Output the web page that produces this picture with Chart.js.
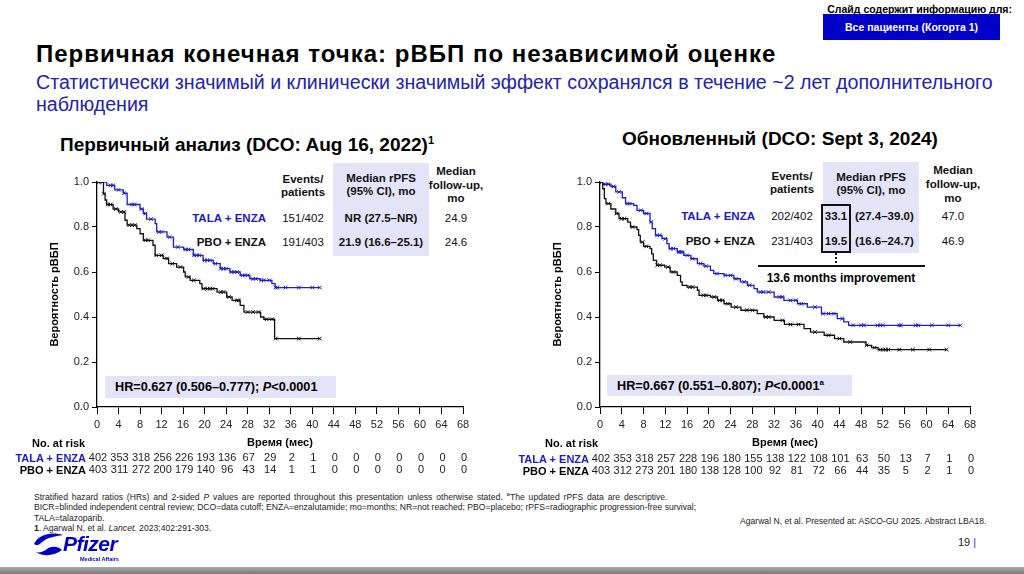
<!DOCTYPE html>
<html><head><meta charset="utf-8">
<script src="https://cdn.jsdelivr.net/npm/chart.js@4"></script>
<style>
body{margin:0;width:1024px;height:574px;position:relative;overflow:hidden;background:#fff;font-family:"Liberation Sans",Arial,sans-serif;color:#000}
.a{position:absolute;white-space:nowrap;line-height:1}
.cc{transform:translate(-50%,-50%);text-align:center}
.rc{transform:translate(-100%,-50%);text-align:right}
.lc{transform:translate(0,-50%)}
.b{font-weight:bold}
.t{font-size:11.5px;color:#111}
.blue{color:#1a1ac8}
.shade{position:absolute;background:#e4e4f8}
canvas{position:absolute}
.fn{position:absolute;left:34px;font-size:8.6px;color:#222;white-space:nowrap;line-height:10.4px}
</style></head><body>

<div class="a b" style="right:12px;top:4px;font-size:10.5px;">Слайд содержит информацию для:</div>
<div class="a b" style="left:823px;top:14px;width:177px;height:26px;background:#0000c8;color:#fff;font-size:10.5px;line-height:26px;text-align:center">Все пациенты (Когорта 1)</div>

<div class="a b" style="left:36px;top:42px;font-size:24px;letter-spacing:1px">Первичная конечная точка: рВБП по независимой оценке</div>
<div class="a" style="left:36px;top:71px;font-size:19.6px;line-height:22px;color:#2222b0">Статистически значимый и клинически значимый эффект сохранялся в течение ~2 лет дополнительного<br>наблюдения</div>

<div class="a b" style="left:60px;top:135px;font-size:19px;">Первичный анализ (DCO: Aug 16, 2022)<sup style="font-size:11px">1</sup></div>
<div class="a b" style="left:622px;top:129px;font-size:19px;">Обновленный (DCO: Sept 3, 2024)</div>

<!-- left table -->
<div class="shade" style="left:333px;top:163px;width:96px;height:93px"></div>
<div class="a cc b t" style="left:303px;top:186px;line-height:13px">Events/<br>patients</div>
<div class="a cc b t" style="left:381px;top:185px;line-height:13px">Median rPFS<br>(95% CI), mo</div>
<div class="a cc b t" style="left:456px;top:185px;line-height:13.5px">Median<br>follow-up,<br>mo</div>
<div class="a rc b t blue" style="left:266px;top:219px">TALA + ENZA</div>
<div class="a cc t" style="left:303px;top:219px">151/402</div>
<div class="a cc b t" style="left:381px;top:219px">NR (27.5–NR)</div>
<div class="a cc t" style="left:456px;top:219px">24.9</div>
<div class="a rc b t" style="left:266px;top:243px">PBO + ENZA</div>
<div class="a cc t" style="left:303px;top:243px">191/403</div>
<div class="a cc b t" style="left:381px;top:243px">21.9 (16.6–25.1)</div>
<div class="a cc t" style="left:456px;top:243px">24.6</div>

<!-- right table -->
<div class="shade" style="left:823px;top:162px;width:96px;height:91px"></div>
<div class="a cc b t" style="left:792px;top:183px;line-height:13px">Events/<br>patients</div>
<div class="a cc b t" style="left:871px;top:184px;line-height:13px">Median rPFS<br>(95% CI), mo</div>
<div class="a cc b t" style="left:953px;top:184px;line-height:14px">Median<br>follow-up,<br>mo</div>
<div class="a rc b t blue" style="left:755px;top:217px">TALA + ENZA</div>
<div class="a cc t" style="left:792px;top:217px">202/402</div>
<div class="a cc b t" style="left:836px;top:217px">33.1</div>
<div class="a lc b t" style="left:855px;top:217px">(27.4–39.0)</div>
<div class="a cc t" style="left:953px;top:217px">47.0</div>
<div class="a rc b t" style="left:755px;top:242px">PBO + ENZA</div>
<div class="a cc t" style="left:792px;top:242px">231/403</div>
<div class="a cc b t" style="left:836px;top:242px">19.5</div>
<div class="a lc b t" style="left:855px;top:242px">(16.6–24.7)</div>
<div class="a cc t" style="left:953px;top:242px">46.9</div>
<div style="position:absolute;left:821px;top:204px;width:26px;height:45px;border:2.5px solid #111"></div>
<div style="position:absolute;left:835px;top:253px;height:10px;border-left:2px dotted #111"></div>
<div style="position:absolute;left:758px;top:265px;width:167px;height:2px;background:#111"></div>
<div class="a cc b" style="left:841px;top:278px;font-size:12px">13.6 months improvement</div>

<canvas id="c1" width="490" height="310" style="left:0;top:170px"></canvas>
<canvas id="c2" width="500" height="310" style="left:500px;top:170px"></canvas>

<!-- HR boxes -->
<div class="shade" style="left:105px;top:376px;width:231px;height:22px"></div>
<div class="a lc b" style="left:115px;top:387px;font-size:12.7px">HR=0.627 (0.506–0.777); <i>P</i>&lt;0.0001</div>
<div class="shade" style="left:607px;top:375px;width:245px;height:21px"></div>
<div class="a lc b" style="left:617px;top:385.5px;font-size:12.7px">HR=0.667 (0.551–0.807); <i>P</i>&lt;0.0001<sup style="font-size:8px">a</sup></div>

<!-- at risk labels -->
<div class="a lc b" style="left:32px;top:443px;font-size:11px">No. at risk</div>
<div class="a rc b blue" style="left:86px;top:458px;font-size:11px">TALA + ENZA</div>
<div class="a rc b" style="left:86px;top:470px;font-size:11px">PBO + ENZA</div>
<div class="a lc b" style="left:545px;top:443px;font-size:11px">No. at risk</div>
<div class="a rc b blue" style="left:589px;top:459px;font-size:11px">TALA + ENZA</div>
<div class="a rc b" style="left:589px;top:471px;font-size:11px">PBO + ENZA</div>

<!-- footnotes -->
<div class="fn" style="top:489px"><span style="word-spacing:1.5px">Stratified hazard ratios (HRs) and 2-sided <i>P</i> values are reported throughout this presentation unless otherwise stated. <sup style="font-size:6px">a</sup>The updated rPFS data are descriptive.</span><br>BICR=blinded independent central review; DCO=data cutoff; ENZA=enzalutamide; mo=months; NR=not reached; PBO=placebo; rPFS=radiographic progression-free survival;<br>TALA=talazoparib.<br><b>1</b>. Agarwal N, et al. <i>Lancet.</i> 2023;402:291-303.</div>
<div class="a" style="left:740px;top:517px;font-size:8.6px;color:#222">Agarwal N, et al. Presented at: ASCO-GU 2025. Abstract LBA18.</div>
<div class="a" style="left:958px;top:537px;font-size:11px;color:#222">19 <span style="color:#3333cc">|</span></div>

<!-- Pfizer logo -->
<svg style="position:absolute;left:33px;top:531px" width="32" height="28" viewBox="0 0 32 28">
<path d="M1,13 C5,4 18,0 30,4 C24,5 14,6 8,12 C6,14 3,15 1,13 Z" fill="#0000c8"/>
<path d="M3,21 C8,25 20,26 29,19 C25,15 18,15 14,18 C10,21 6,22 3,21 Z" fill="#0000c8"/>
</svg>
<div class="a b" style="left:63px;top:533px;font-size:21px;font-style:italic;color:#0000c8;letter-spacing:-0.5px">Pfizer</div>
<div class="a b" style="left:80px;top:557px;font-size:5.5px;color:#0000c8">Medical Affairs</div>
<div style="position:absolute;left:0;top:567px;width:1024px;height:7px;background:linear-gradient(#aaa,#777)"></div>

<script>
// ---------- data ----------
const timeTicks = [0,4,8,12,16,20,24,28,32,36,40,44,48,52,56,60,64,68];
const yTicks = [0,0.2,0.4,0.6,0.8,1.0];
const seriesNames = ['TALA + ENZA','PBO + ENZA'];

// Primary analysis (DCO Aug 16, 2022): [month, survival] step points
const primTalaSteps = [[0,1],[1.8,0.985],[3.3,0.965],[4.9,0.95],[5.6,0.90],[8.0,0.88],[8.6,0.86],[9.2,0.835],[10.8,0.815],[11.1,0.778],[13.0,0.755],[14.2,0.711],[16.1,0.70],[17.9,0.674],[19.7,0.652],[21.6,0.637],[22.9,0.615],[24.7,0.60],[26.6,0.585],[28.4,0.57],[30.3,0.563],[32.5,0.548],[33.1,0.531],[41.4,0.531]];
const primTalaCensor = [0.3,1,2.5,3,4,5,6.5,7,8.3,9,10,11.5,12,13.5,15,16.5,17,18,18.5,19,20,20.5,21,22,23,23.5,24,25,25.5,26,27,27.5,28,29,29.5,30.5,31,32,33.2,33.5,35,37.5,40,41.4];
const primPboSteps = [[0,1],[1.2,0.948],[1.5,0.92],[1.8,0.90],[3.0,0.88],[4.0,0.867],[5.2,0.83],[5.6,0.808],[7.4,0.793],[8.0,0.77],[8.6,0.741],[10.4,0.719],[10.8,0.674],[12.3,0.66],[13.3,0.637],[14.8,0.622],[16.1,0.60],[16.4,0.578],[17.3,0.563],[19.1,0.548],[19.5,0.526],[22.3,0.511],[24.1,0.489],[25.1,0.474],[26.6,0.452],[27.3,0.422],[30.4,0.40],[31.0,0.39],[33.0,0.304],[41.4,0.304]];
const primPboCensor = [0.3,1.3,2,2.5,3.5,4.5,5,6,6.5,7,9,9.5,11,12,13,14,15.5,17,18,19.8,20.5,21,21.5,23,23.5,24.5,26,26.3,28,29,30,31.5,32.5,33.2,37.5,41.4];
const primTalaRisk = [402,353,318,256,226,193,136,67,29,2,1,0,0,0,0,0,0,0];
const primPboRisk  = [403,311,272,200,179,140,96,43,14,1,1,0,0,0,0,0,0,0];

// Updated analysis (DCO Sept 3, 2024)
const updTalaSteps = [[0,1],[0.5,0.99],[2,0.98],[2.9,0.956],[4.1,0.93],[4.7,0.904],[6.2,0.896],[6.8,0.874],[8.0,0.86],[9.2,0.822],[9.6,0.793],[10.2,0.763],[11.4,0.748],[12.3,0.726],[12.7,0.704],[14.2,0.689],[15.4,0.674],[16.7,0.659],[17.9,0.637],[19.1,0.626],[20.3,0.607],[20.9,0.593],[22.8,0.585],[24.6,0.57],[25.8,0.556],[27.1,0.541],[28.3,0.526],[28.9,0.511],[32.0,0.489],[33.8,0.474],[36.3,0.459],[38.1,0.444],[40.7,0.415],[43.6,0.393],[44.8,0.378],[45.7,0.363],[66.2,0.363]];
const updTalaCensor = [0.3,1,1.5,2.5,3.5,5,5.5,7.5,8.5,9.4,10.5,11,12,13,13.5,14.5,14.8,15,16,17,18.5,19.5,21.5,23,24,25,26.5,27.5,29.5,30,31,33,33.5,35,36,37,39.5,41,42,43,44.5,46.5,48,48.5,51,51.5,52,55,55.3,58,58.5,61,64,66.2];
const updPboSteps = [[0,1],[0.5,0.97],[0.8,0.926],[1.1,0.904],[2,0.88],[2.9,0.86],[3.5,0.837],[5.1,0.822],[5.6,0.80],[6.8,0.788],[7.1,0.763],[7.4,0.733],[8.0,0.714],[9.2,0.704],[9.5,0.681],[9.8,0.652],[10.4,0.63],[11.9,0.622],[12.9,0.60],[14.2,0.585],[14.8,0.556],[15.1,0.541],[16.0,0.533],[17.9,0.519],[18.2,0.496],[20.3,0.489],[21.6,0.474],[22.8,0.459],[24.1,0.444],[25.9,0.43],[28.9,0.415],[30.1,0.40],[32.0,0.385],[33.9,0.367],[37.5,0.348],[38.7,0.333],[41.2,0.319],[43.1,0.304],[44.8,0.289],[48.9,0.274],[49.9,0.264],[51.1,0.255],[63.7,0.255]];
const updPboCensor = [0.3,1.5,3,4,4.5,6,7.8,8.5,10.5,11,12.5,13.5,16.5,17,19,19.5,21,22,22.5,23.5,25,27,28,30.5,31,33.5,35,36.5,39.5,42,44,46,49,50.5,51.5,52,52.5,53,55,57.5,60.5,63.7];
const updTalaRisk = [402,353,318,257,228,196,180,155,138,122,108,101,63,50,13,7,1,0];
const updPboRisk  = [403,312,273,201,180,138,128,100,92,81,72,66,44,35,5,2,1,0];

// ---------- rendering ----------
const BLUE = '#1e1ec8', BLACK = '#111';
const FONT = '"Liberation Sans", Arial, sans-serif';
function kmAt(steps, t){ let v = steps[0][1]; for (const [x,y] of steps) if (x <= t) v = y; return v; }

function makeChart(id, talaSteps, talaCens, pboSteps, pboCens, talaRisk, pboRisk, pad, riskRows) {
  const riskPlugin = {
    id: 'risk',
    afterDraw(chart) {
      const ctx = chart.ctx, xs = chart.scales.x;
      ctx.save();
      ctx.font = '11px ' + FONT;
      ctx.textAlign = 'center'; ctx.textBaseline = 'middle';
      ctx.fillStyle = '#222';
      timeTicks.forEach((t, i) => {
        const x = xs.getPixelForValue(t) + 1;
        ctx.fillText(String(talaRisk[i]), x, riskRows[0]);
        ctx.fillText(String(pboRisk[i]), x, riskRows[1]);
      });
      ctx.restore();
    }
  };
  return new Chart(document.getElementById(id), {
    type: 'line',
    data: {
      datasets: [
        { label: seriesNames[1], data: pboSteps.map(([x,y]) => ({x,y})), borderColor: BLACK, borderWidth: 1.3, stepped: true, pointRadius: 0, fill: false },
        { label: seriesNames[1] + ' censored', data: pboCens.map(t => ({x: t, y: kmAt(pboSteps, t)})), showLine: false, pointStyle: 'crossRot', pointRadius: 2.6, borderColor: BLACK, pointBorderWidth: 1 },
        { label: seriesNames[0], data: talaSteps.map(([x,y]) => ({x,y})), borderColor: BLUE, borderWidth: 1.3, stepped: true, pointRadius: 0, fill: false },
        { label: seriesNames[0] + ' censored', data: talaCens.map(t => ({x: t, y: kmAt(talaSteps, t)})), showLine: false, pointStyle: 'crossRot', pointRadius: 2.6, borderColor: BLUE, pointBorderWidth: 1 }
      ]
    },
    options: {
      responsive: false, animation: false, devicePixelRatio: 1,
      layout: { padding: pad },
      plugins: { legend: { display: false }, tooltip: { enabled: false } },
      scales: {
        x: {
          type: 'linear', min: 0, max: 68,
          afterBuildTicks: s => { s.ticks = timeTicks.map(v => ({value: v})); },
          ticks: { font: { family: FONT, size: 11 }, color: '#222', padding: 4, maxRotation: 0, autoSkip: false },
          grid: { drawOnChartArea: false, drawTicks: true, tickLength: 7, tickColor: '#000', tickWidth: 1 },
          border: { color: '#000', width: 1.3 },
          title: { display: true, text: 'Время (мес)', font: { family: FONT, size: 11, weight: 'bold' }, color: '#000', padding: { top: 0, bottom: 2 } },
          afterFit: s => { s.height = 45; }
        },
        y: {
          min: 0, max: 1,
          afterBuildTicks: s => { s.ticks = yTicks.map(v => ({value: v})); },
          ticks: { font: { family: FONT, size: 11 }, color: '#222', padding: 3, callback: v => Number(v).toFixed(1) },
          grid: { drawOnChartArea: false, drawTicks: true, tickLength: 5, tickColor: '#000', tickWidth: 1 },
          border: { color: '#000', width: 1.3 },
          title: { display: true, text: 'Вероятность рВБП', font: { family: FONT, size: 11, weight: 'bold' }, color: '#000', padding: { top: 8 } },
          afterFit: s => { s.width = 57; }
        }
      }
    },
    plugins: [riskPlugin]
  });
}

makeChart('c1', primTalaSteps, primTalaCensor, primPboSteps, primPboCensor, primTalaRisk, primPboRisk,
  { left: 40, top: 12, right: 27, bottom: 28 }, [288, 300]);
makeChart('c2', updTalaSteps, updTalaCensor, updPboSteps, updPboCensor, updTalaRisk, updPboRisk,
  { left: 43, top: 12, right: 30, bottom: 28 }, [289, 301]);
</script>
</body></html>
